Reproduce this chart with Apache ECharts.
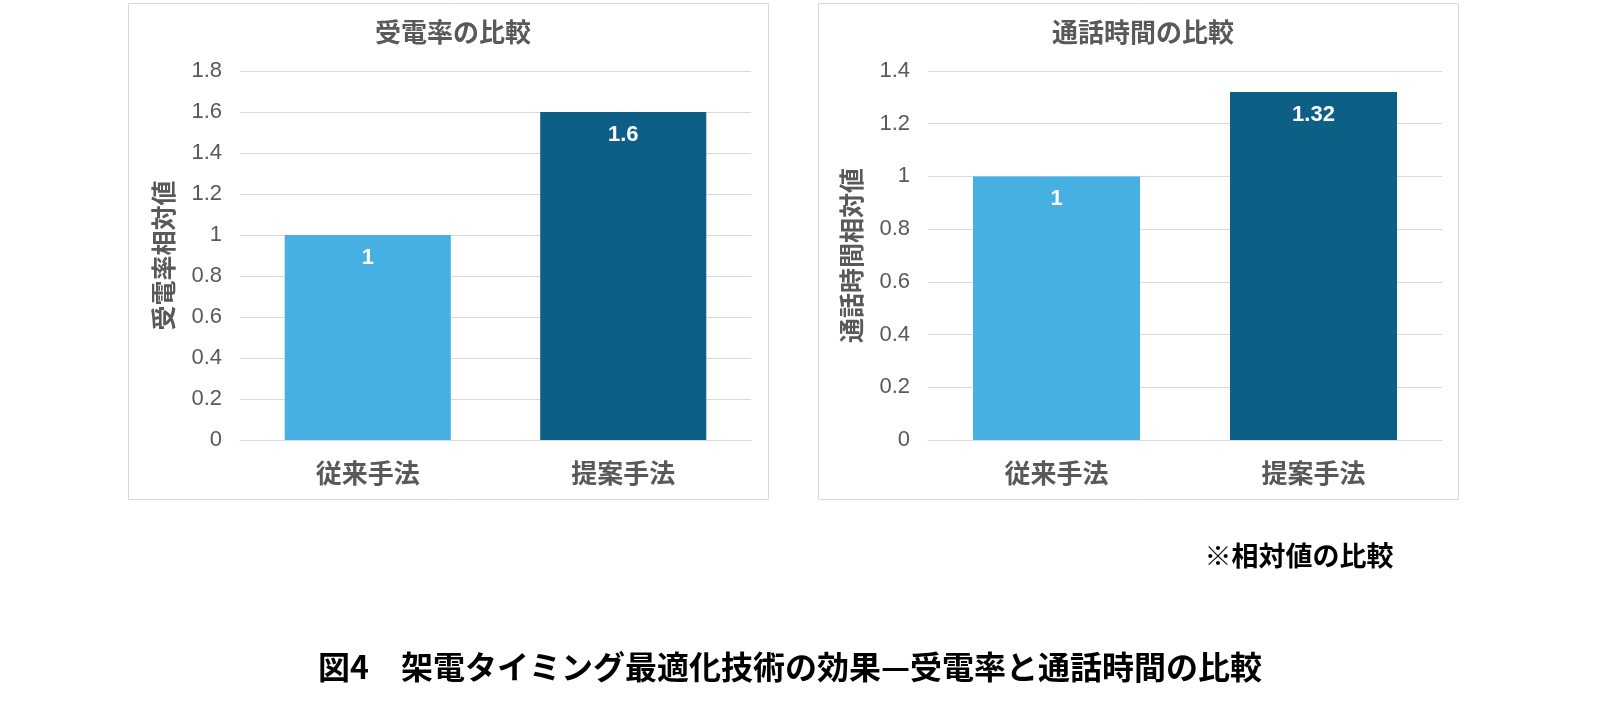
<!DOCTYPE html>
<html><head><meta charset="utf-8">
<script src="https://cdn.jsdelivr.net/npm/echarts@6/dist/echarts.min.js"></script>
<style>html,body{margin:0;padding:0;background:#fff}#c{width:1601px;height:719px}</style>
</head><body><div id="c"></div>
<script>
const categories = ['従来手法', '提案手法'];
const rateValues = [1, 1.6];
const timeValues = [1, 1.32];
const colors = ['#45B0E1', '#0E5F85'];
const F = '"Noto Sans CJK JP", "Liberation Sans", sans-serif';
const chart = echarts.init(document.getElementById('c'));
function mk(v){return v.map((x,i)=>({value:x,itemStyle:{color:colors[i]}}));}
const yAx = (max, name, gi) => ({
  gridIndex: gi, type:'value', min:0, max:max, interval:0.2,
  name:name, nameLocation:'middle', nameGap:64, nameRotate:90,
  nameTextStyle:{color:'#595959', fontSize:25, fontWeight:'bold', fontFamily:F},
  axisLabel:{color:'#595959', fontSize:22, margin:18, fontFamily:'Liberation Sans', formatter:v=>String(+v.toFixed(1))},
  splitLine:{lineStyle:{color:'#D9D9D9'}}, axisLine:{show:false}, axisTick:{show:false}
});
const xAx = gi => ({gridIndex:gi, type:'category', data:categories,
  axisLabel:{color:'#595959', fontSize:26, fontWeight:'bold', fontFamily:F, margin:20},
  axisLine:{lineStyle:{color:'#D9D9D9'}}, axisTick:{show:false}});
const lbl = {show:true, position:'insideTop', distance:12, color:'#fff', fontSize:22, fontWeight:'bold', fontFamily:'Liberation Sans'};
chart.setOption({
  animation:false,
  title:[
    {text:'受電率の比較', left:448, top:14, textAlign:'center', textStyle:{color:'#595959', fontSize:26, fontWeight:'bold', fontFamily:F}},
    {text:'通話時間の比較', left:1138, top:14, textAlign:'center', textStyle:{color:'#595959', fontSize:26, fontWeight:'bold', fontFamily:F}},
    {text:'※相対値の比較', left:1294, top:537, textAlign:'center', textStyle:{color:'#000', fontSize:27, fontWeight:'bold', fontFamily:F}},
    {text:'図4　架電タイミング最適化技術の効果—受電率と通話時間の比較', left:785, top:646, textAlign:'center', textStyle:{color:'#000', fontSize:32, fontWeight:'bold', fontFamily:F}}
  ],
  graphic:[
    {type:'rect', shape:{x:128.5,y:3.5,width:640,height:496}, style:{fill:'none', stroke:'#D9D9D9'}},
    {type:'rect', shape:{x:818.5,y:3.5,width:640,height:496}, style:{fill:'none', stroke:'#D9D9D9'}}
  ],
  grid:[{left:240, width:511, top:71, height:369},{left:928, width:514, top:71, height:369}],
  xAxis:[xAx(0), xAx(1)],
  yAxis:[yAx(1.8,'受電率相対値',0), yAx(1.4,'通話時間相対値',1)],
  series:[
    {type:'bar', xAxisIndex:0, yAxisIndex:0, data:mk(rateValues), barWidth:'65%', label:lbl},
    {type:'bar', xAxisIndex:1, yAxisIndex:1, data:mk(timeValues), barWidth:'65%', label:lbl}
  ]
});
</script></body></html>
